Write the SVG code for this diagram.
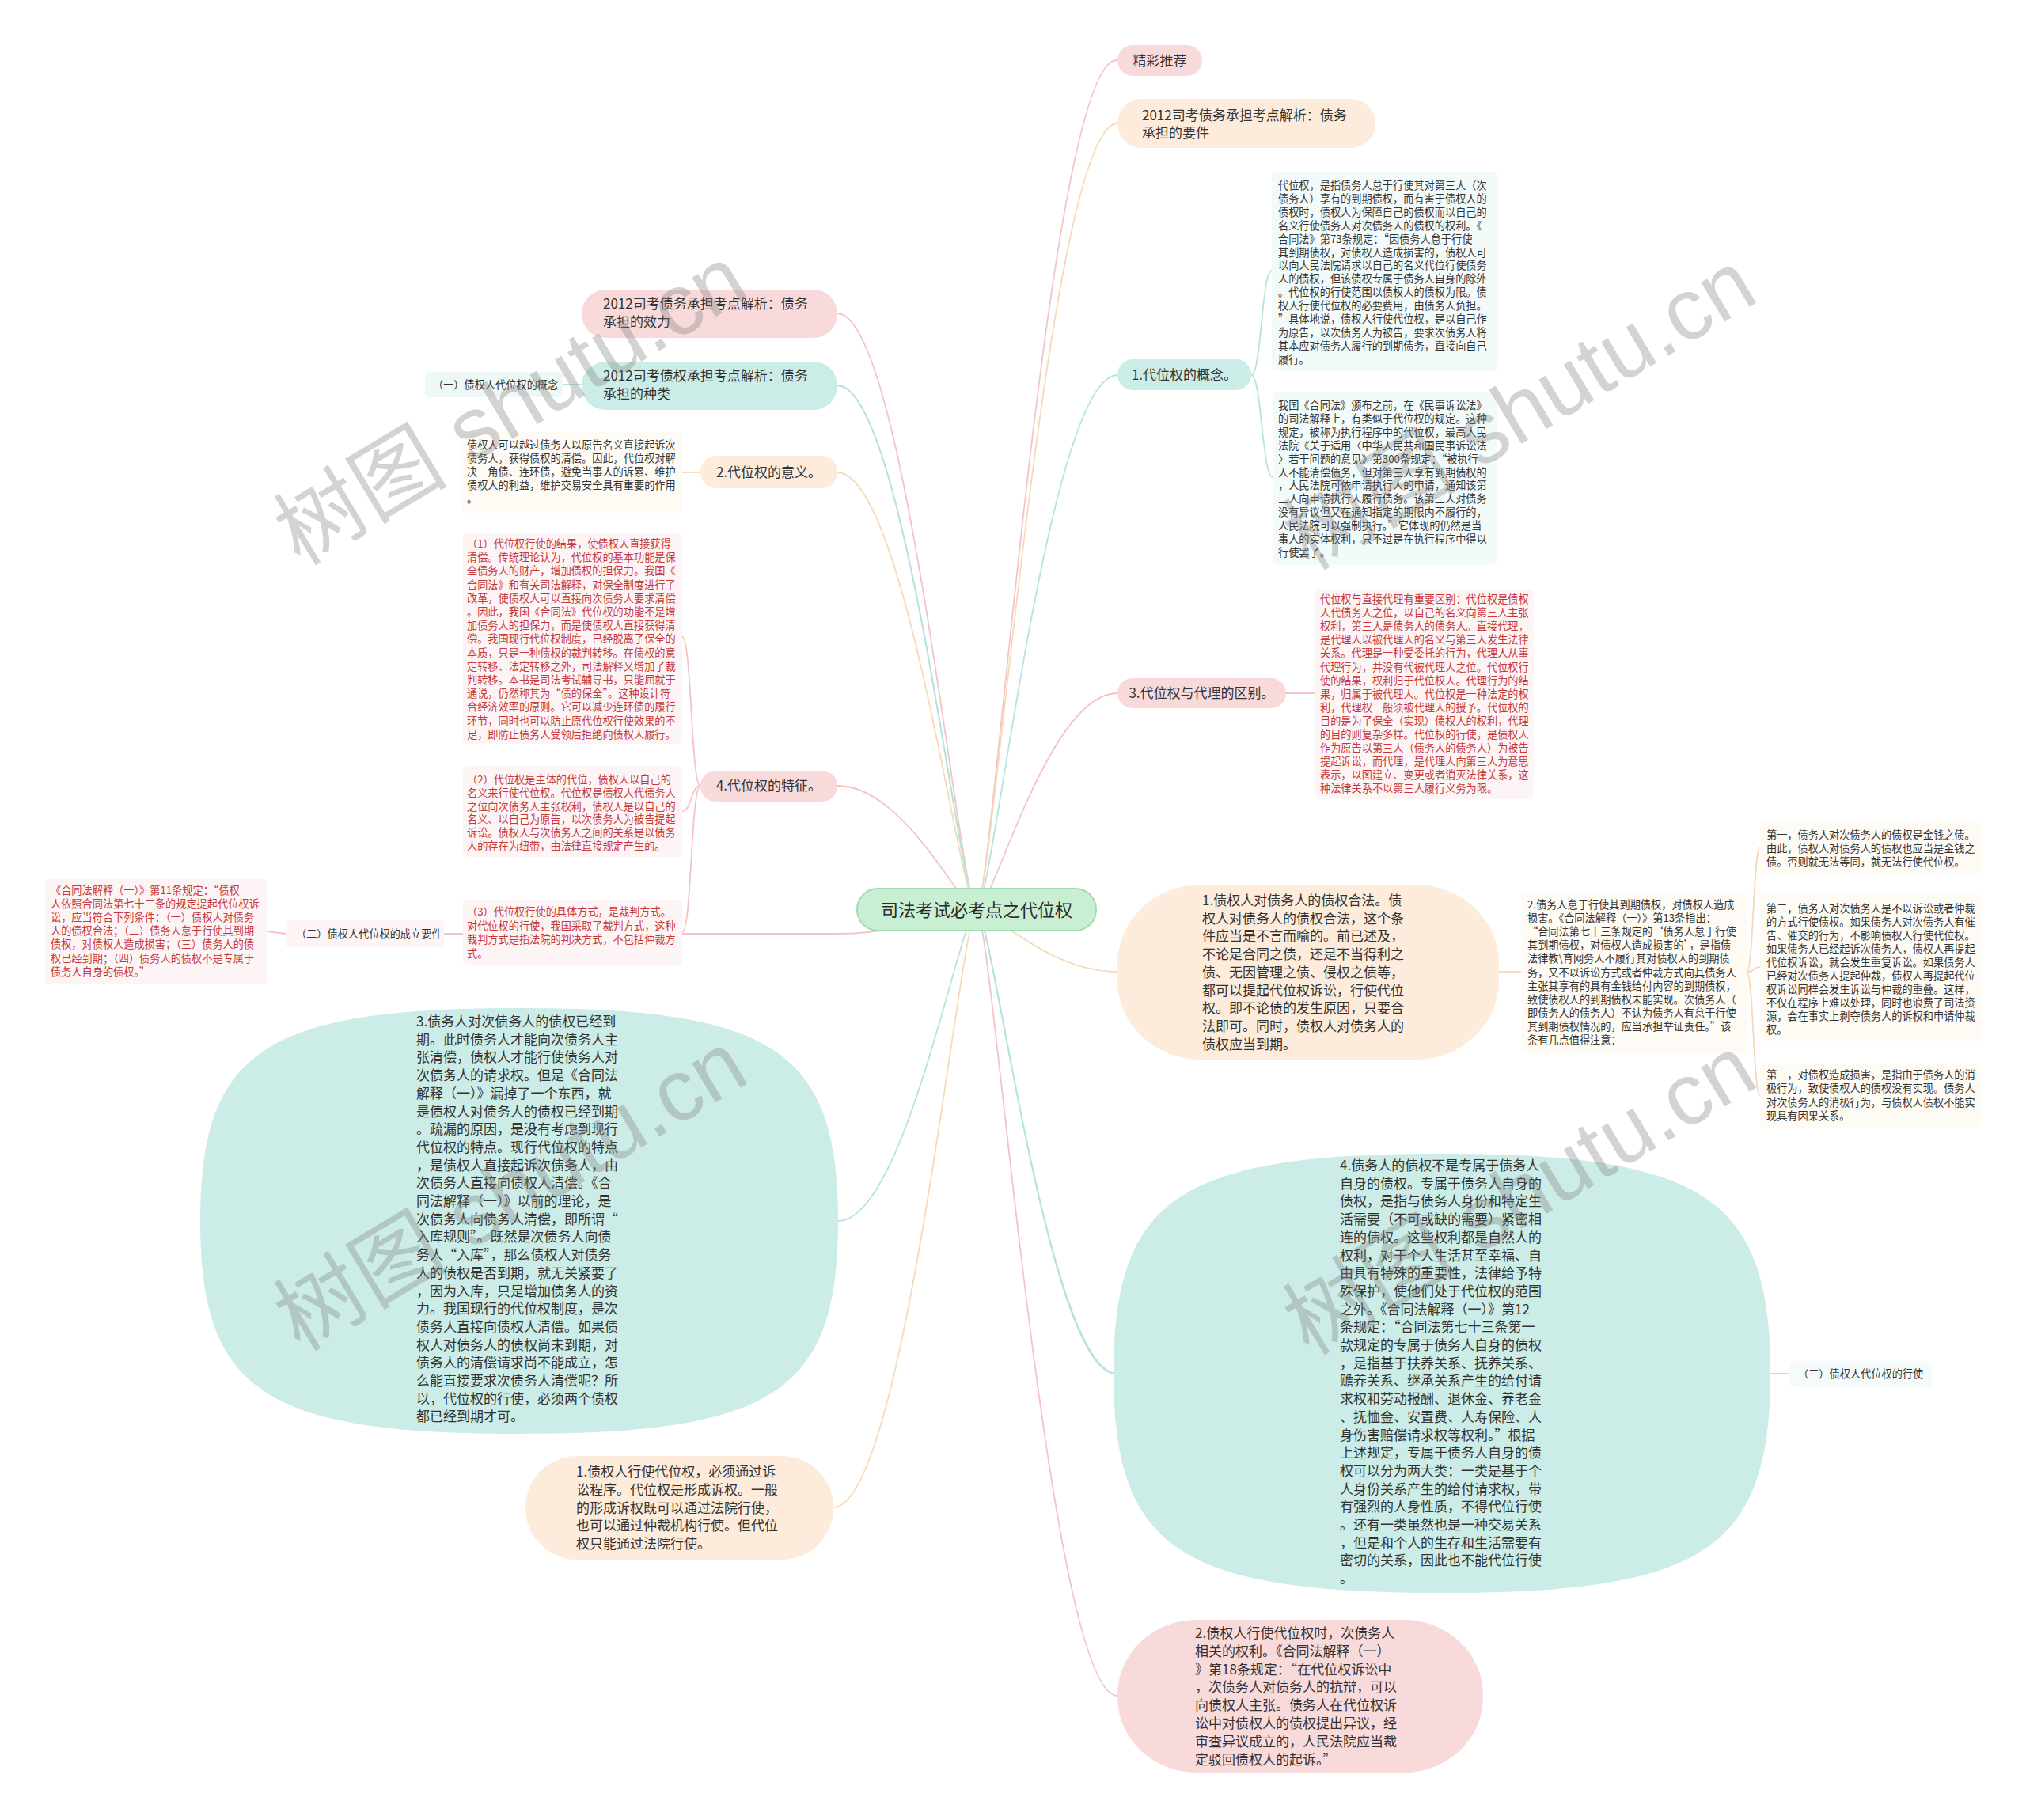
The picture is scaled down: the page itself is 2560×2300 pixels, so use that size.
<svg xmlns="http://www.w3.org/2000/svg" width="2560" height="2300" viewBox="0 0 2560 2300" xml:lang="zh-CN" lang="zh-CN">
<style>
.t{font-family:"Noto Sans CJK SC","Noto Sans",sans-serif;fill:#333}
.s{font-size:13.2px}
.r{fill:#c8383b}
.m{font-size:17px}
.b{font-size:17px}
.c{font-size:22px;fill:#2b2b2b}
.mid{text-anchor:middle}
.e{fill:none;stroke-width:1.8}
.ep{stroke:#f4c4c4}
.eo{stroke:#f7d9b8}
.et{stroke:#b5e4dd}
.fp{fill:#f9dadb}
.fo{fill:#fdecdb}
.ft{fill:#ccede7}
.bt{fill:#f3fbfa}
.bo{fill:#fefaf4}
.bp{fill:#fdf5f5}
.wm{font-family:"Liberation Sans","Noto Sans CJK SC",sans-serif;font-size:110px;fill:#808080;fill-opacity:0.35}
</style>
<rect width="2560" height="2300" fill="#ffffff"/>

<g id="connectors">
<path class="e ep" d="M1234,1150 C1254,1150 1324,76 1411,76"/>
<path class="e eo" d="M1234,1150 C1254,1150 1324,156 1412,156"/>
<path class="e et" d="M1234,1150 C1254,1150 1324,474 1412,474"/>
<path class="e ep" d="M1234,1150 C1254,1150 1324,876 1412,876"/>
<path class="e eo" d="M1234,1150 C1254,1150 1324,1228 1412,1228"/>
<path class="e et" d="M1234,1150 C1254,1150 1324,1736 1410,1736"/>
<path class="e et" d="M1234,1150 C1254,1150 1324,1736 1412,1736 L2261,1736"/>
<path class="e ep" d="M1234,1150 C1254,1150 1324,2143 1412,2143"/>
<path class="e ep" d="M1234,1150 C1214,1150 1144,396 1058,396"/>
<path class="e et" d="M1234,1150 C1214,1150 1144,487 1058,487"/>
<path class="e et" d="M1234,1150 C1214,1150 1144,487 1058,487 L712,486"/>
<path class="e eo" d="M1234,1150 C1214,1150 1144,597 1058,597"/>
<path class="e ep" d="M1234,1150 C1214,1150 1144,993 1058,993"/>
<path class="e ep" d="M1234,1150 C1214,1150 1144,1180 1058,1180 L561,1180"/>
<path class="e et" d="M1234,1150 C1214,1150 1144,1543 1059,1543"/>
<path class="e eo" d="M1234,1150 C1214,1150 1144,1905 1053,1905"/>
<path class="e et" d="M1581,474 C1594,474 1594,342 1607,342"/>
<path class="e et" d="M1581,474 C1594,474 1595,603 1608,603"/>
<path class="e ep" d="M1625,876 L1662,876"/>
<path class="e eo" d="M1894,1228 L1922,1228"/>
<path class="e eo" d="M2207,1229 C2216,1229 2215,1071 2224,1071"/>
<path class="e eo" d="M2207,1229 C2216,1229 2215,1222 2224,1222"/>
<path class="e eo" d="M2207,1229 C2216,1229 2215,1384 2224,1384"/>
<path class="e eo" d="M885,597 L862,597"/>
<path class="e ep" d="M885,993 C873,993 874,805 862,805"/>
<path class="e ep" d="M885,993 C873,993 874,1025 862,1025"/>
<path class="e ep" d="M885,993 C873,993 874,1178 862,1178"/>
<path class="e ep" d="M361,1180 L338,1177"/>
</g>

<g id="center">
<rect x="1083" y="1123" width="302" height="53" rx="26" fill="#c9efd3" stroke="#a3dcb3" stroke-width="2"/>
<text class="t c mid" x="1234" y="1158">司法考试必考点之代位权</text>
</g>

<g id="n-jingcai">
<rect class="fp" x="1412" y="57" width="107" height="39" rx="19.5"/>
<text class="t m mid" x="1465.5" y="82.5">精彩推荐</text>
</g>

<g id="n-yaojian">
<rect class="fo" x="1412" y="125" width="326" height="62" rx="31"/>
<text class="t m" x="1443" y="152"><tspan x="1443">2012司考债务承担考点解析：债务</tspan><tspan x="1443" dy="22">承担的要件</tspan></text>
</g>

<g id="n-gainian">
<rect class="ft" x="1412" y="454" width="169" height="39" rx="19.5"/>
<text class="t m mid" x="1496.5" y="480">1.代位权的概念。</text>
</g>

<g id="n-gainian-t1">
<rect class="bt" x="1607" y="217" width="286" height="252" rx="6"/>
<text class="t s" x="1615" y="239"><tspan x="1615">代位权，是指债务人怠于行使其对第三人（次</tspan><tspan x="1615" dy="16.9">债务人）享有的到期债权，而有害于债权人的</tspan><tspan x="1615" dy="16.9">债权时，债权人为保障自己的债权而以自己的</tspan><tspan x="1615" dy="16.9">名义行使债务人对次债务人的债权的权利。《</tspan><tspan x="1615" dy="16.9">合同法》第73条规定：“因债务人怠于行使</tspan><tspan x="1615" dy="16.9">其到期债权，对债权人造成损害的，债权人可</tspan><tspan x="1615" dy="16.9">以向人民法院请求以自己的名义代位行使债务</tspan><tspan x="1615" dy="16.9">人的债权，但该债权专属于债务人自身的除外</tspan><tspan x="1615" dy="16.9">。代位权的行使范围以债权人的债权为限。债</tspan><tspan x="1615" dy="16.9">权人行使代位权的必要费用，由债务人负担。</tspan><tspan x="1615" dy="16.9">”具体地说，债权人行使代位权，是以自己作</tspan><tspan x="1615" dy="16.9">为原告，以次债务人为被告，要求次债务人将</tspan><tspan x="1615" dy="16.9">其本应对债务人履行的到期债务，直接向自己</tspan><tspan x="1615" dy="16.9">履行。</tspan></text>
</g>

<g id="n-gainian-t2">
<rect class="bt" x="1608" y="495" width="283" height="219" rx="6"/>
<text class="t s" x="1615" y="517"><tspan x="1615">我国《合同法》颁布之前，在《民事诉讼法》</tspan><tspan x="1615" dy="16.9">的司法解释上，有类似于代位权的规定。这种</tspan><tspan x="1615" dy="16.9">规定，被称为执行程序中的代位权，最高人民</tspan><tspan x="1615" dy="16.9">法院《关于适用〈中华人民共和国民事诉讼法</tspan><tspan x="1615" dy="16.9">〉若干问题的意见》第300条规定：“被执行</tspan><tspan x="1615" dy="16.9">人不能清偿债务，但对第三人享有到期债权的</tspan><tspan x="1615" dy="16.9">，人民法院可依申请执行人的申请，通知该第</tspan><tspan x="1615" dy="16.9">三人向申请执行人履行债务。该第三人对债务</tspan><tspan x="1615" dy="16.9">没有异议但又在通知指定的期限内不履行的，</tspan><tspan x="1615" dy="16.9">人民法院可以强制执行。”它体现的仍然是当</tspan><tspan x="1615" dy="16.9">事人的实体权利，只不过是在执行程序中得以</tspan><tspan x="1615" dy="16.9">行使罢了。</tspan></text>
</g>

<g id="n-daili">
<rect class="fp" x="1412" y="857" width="213" height="38" rx="19"/>
<text class="t m mid" x="1518.5" y="882">3.代位权与代理的区别。</text>
</g>

<g id="n-daili-t">
<rect class="bp" x="1662" y="745" width="276" height="265" rx="6"/>
<text class="t s r" x="1668" y="762"><tspan x="1668">代位权与直接代理有重要区别：代位权是债权</tspan><tspan x="1668" dy="17.1">人代债务人之位，以自己的名义向第三人主张</tspan><tspan x="1668" dy="17.1">权利，第三人是债务人的债务人。直接代理，</tspan><tspan x="1668" dy="17.1">是代理人以被代理人的名义与第三人发生法律</tspan><tspan x="1668" dy="17.1">关系。代理是一种受委托的行为，代理人从事</tspan><tspan x="1668" dy="17.1">代理行为，并没有代被代理人之位。代位权行</tspan><tspan x="1668" dy="17.1">使的结果，权利归于代位权人。代理行为的结</tspan><tspan x="1668" dy="17.1">果，归属于被代理人。代位权是一种法定的权</tspan><tspan x="1668" dy="17.1">利，代理权一般须被代理人的授予。代位权的</tspan><tspan x="1668" dy="17.1">目的是为了保全（实现）债权人的权利，代理</tspan><tspan x="1668" dy="17.1">的目的则复杂多样。代位权的行使，是债权人</tspan><tspan x="1668" dy="17.1">作为原告以第三人（债务人的债务人）为被告</tspan><tspan x="1668" dy="17.1">提起诉讼，而代理，是代理人向第三人为意思</tspan><tspan x="1668" dy="17.1">表示，以图建立、变更或者消灭法律关系，这</tspan><tspan x="1668" dy="17.1">种法律关系不以第三人履行义务为限。</tspan></text>
</g>

<g id="n-hefa">
<rect class="fo" x="1412" y="1118" width="482" height="221" rx="105" ry="100"/>
<text class="t b" x="1519" y="1144"><tspan x="1519">1.债权人对债务人的债权合法。债</tspan><tspan x="1519" dy="22.7">权人对债务人的债权合法，这个条</tspan><tspan x="1519" dy="22.7">件应当是不言而喻的。前已述及，</tspan><tspan x="1519" dy="22.7">不论是合同之债，还是不当得利之</tspan><tspan x="1519" dy="22.7">债、无因管理之债、侵权之债等，</tspan><tspan x="1519" dy="22.7">都可以提起代位权诉讼，行使代位</tspan><tspan x="1519" dy="22.7">权。即不论债的发生原因，只要合</tspan><tspan x="1519" dy="22.7">法即可。同时，债权人对债务人的</tspan><tspan x="1519" dy="22.7">债权应当到期。</tspan></text>
</g>

<g id="n-daiyu">
<rect class="bo" x="1922" y="1128" width="285" height="203" rx="6"/>
<text class="t s" x="1930" y="1148"><tspan x="1930">2.债务人怠于行使其到期债权，对债权人造成</tspan><tspan x="1930" dy="17.1">损害。《合同法解释（一）》第13条指出：</tspan><tspan x="1930" dy="17.1">“合同法第七十三条规定的‘债务人怠于行使</tspan><tspan x="1930" dy="17.1">其到期债权，对债权人造成损害的’，是指债</tspan><tspan x="1930" dy="17.1">法律教\育网务人不履行其对债权人的到期债</tspan><tspan x="1930" dy="17.1">务，又不以诉讼方式或者仲裁方式向其债务人</tspan><tspan x="1930" dy="17.1">主张其享有的具有金钱给付内容的到期债权，</tspan><tspan x="1930" dy="17.1">致使债权人的到期债权未能实现。次债务人（</tspan><tspan x="1930" dy="17.1">即债务人的债务人）不认为债务人有怠于行使</tspan><tspan x="1930" dy="17.1">其到期债权情况的，应当承担举证责任。”该</tspan><tspan x="1930" dy="17.1">条有几点值得注意：</tspan></text>
</g>

<g id="n-di1">
<rect class="bo" x="2224" y="1038" width="279" height="67" rx="6"/>
<text class="t s" x="2232" y="1060"><tspan x="2232">第一，债务人对次债务人的债权是金钱之债。</tspan><tspan x="2232" dy="17">由此，债权人对债务人的债权也应当是金钱之</tspan><tspan x="2232" dy="17">债。否则就无法等同，就无法行使代位权。</tspan></text>
</g>

<g id="n-di2">
<rect class="bo" x="2224" y="1130" width="279" height="186" rx="6"/>
<text class="t s" x="2232" y="1153"><tspan x="2232">第二，债务人对次债务人是不以诉讼或者仲裁</tspan><tspan x="2232" dy="17">的方式行使债权。如果债务人对次债务人有催</tspan><tspan x="2232" dy="17">告、催交的行为，不影响债权人行使代位权。</tspan><tspan x="2232" dy="17">如果债务人已经起诉次债务人，债权人再提起</tspan><tspan x="2232" dy="17">代位权诉讼，就会发生重复诉讼。如果债务人</tspan><tspan x="2232" dy="17">已经对次债务人提起仲裁，债权人再提起代位</tspan><tspan x="2232" dy="17">权诉讼同样会发生诉讼与仲裁的重叠。这样，</tspan><tspan x="2232" dy="17">不仅在程序上难以处理，同时也浪费了司法资</tspan><tspan x="2232" dy="17">源，会在事实上剥夺债务人的诉权和申请仲裁</tspan><tspan x="2232" dy="17">权。</tspan></text>
</g>

<g id="n-di3">
<rect class="bo" x="2224" y="1344" width="279" height="82" rx="6"/>
<text class="t s" x="2232" y="1363"><tspan x="2232">第三，对债权造成损害，是指由于债务人的消</tspan><tspan x="2232" dy="17.3">极行为，致使债权人的债权没有实现。债务人</tspan><tspan x="2232" dy="17.3">对次债务人的消极行为，与债权人债权不能实</tspan><tspan x="2232" dy="17.3">现具有因果关系。</tspan></text>
</g>

<g id="n-zhuanshu">
<path class="ft" d="M2237,1735.5 C2237,1513.5 2154,1457.9 1822,1457.9 C1490,1457.9 1407,1513.5 1407,1735.5 C1407,1957.5 1490,2013.1 1822,2013.1 C2154,2013.1 2237,1957.5 2237,1735.5 Z"/>
<text class="t b" x="1693" y="1479"><tspan x="1693">4.债务人的债权不是专属于债务人</tspan><tspan x="1693" dy="22.7">自身的债权。专属于债务人自身的</tspan><tspan x="1693" dy="22.7">债权，是指与债务人身份和特定生</tspan><tspan x="1693" dy="22.7">活需要（不可或缺的需要）紧密相</tspan><tspan x="1693" dy="22.7">连的债权。这些权利都是自然人的</tspan><tspan x="1693" dy="22.7">权利，对于个人生活甚至幸福、自</tspan><tspan x="1693" dy="22.7">由具有特殊的重要性，法律给予特</tspan><tspan x="1693" dy="22.7">殊保护，使他们处于代位权的范围</tspan><tspan x="1693" dy="22.7">之外。《合同法解释（一）》第12</tspan><tspan x="1693" dy="22.7">条规定：“合同法第七十三条第一</tspan><tspan x="1693" dy="22.7">款规定的专属于债务人自身的债权</tspan><tspan x="1693" dy="22.7">，是指基于扶养关系、抚养关系、</tspan><tspan x="1693" dy="22.7">赡养关系、继承关系产生的给付请</tspan><tspan x="1693" dy="22.7">求权和劳动报酬、退休金、养老金</tspan><tspan x="1693" dy="22.7">、抚恤金、安置费、人寿保险、人</tspan><tspan x="1693" dy="22.7">身伤害赔偿请求权等权利。”根据</tspan><tspan x="1693" dy="22.7">上述规定，专属于债务人自身的债</tspan><tspan x="1693" dy="22.7">权可以分为两大类：一类是基于个</tspan><tspan x="1693" dy="22.7">人身份关系产生的给付请求权，带</tspan><tspan x="1693" dy="22.7">有强烈的人身性质，不得代位行使</tspan><tspan x="1693" dy="22.7">。还有一类虽然也是一种交易关系</tspan><tspan x="1693" dy="22.7">，但是和个人的生存和生活需要有</tspan><tspan x="1693" dy="22.7">密切的关系，因此也不能代位行使</tspan><tspan x="1693" dy="22.7">。</tspan></text>
</g>

<g id="n-xingshi">
<rect x="2261" y="1720" width="180" height="33" rx="5" fill="#f4fbfa"/>
<text class="t s" x="2272" y="1741">（三）债权人代位权的行使</text>
</g>

<g id="n-kangbian">
<rect class="fp" x="1412" y="2047" width="462" height="193" rx="100" ry="95"/>
<text class="t b" x="1510" y="2070"><tspan x="1510">2.债权人行使代位权时，次债务人</tspan><tspan x="1510" dy="22.8">相关的权利。《合同法解释（一）</tspan><tspan x="1510" dy="22.8">》第18条规定：“在代位权诉讼中</tspan><tspan x="1510" dy="22.8">，次债务人对债务人的抗辩，可以</tspan><tspan x="1510" dy="22.8">向债权人主张。债务人在代位权诉</tspan><tspan x="1510" dy="22.8">讼中对债权人的债权提出异议，经</tspan><tspan x="1510" dy="22.8">审查异议成立的，人民法院应当裁</tspan><tspan x="1510" dy="22.8">定驳回债权人的起诉。”</tspan></text>
</g>

<g id="n-xiaoli">
<rect class="fp" x="735" y="366" width="323" height="61" rx="30"/>
<text class="t m" x="762" y="390"><tspan x="762">2012司考债务承担考点解析：债务</tspan><tspan x="762" dy="23">承担的效力</tspan></text>
</g>

<g id="n-zhonglei">
<rect class="ft" x="735" y="457" width="323" height="61" rx="30"/>
<text class="t m" x="762" y="481"><tspan x="762">2012司考债权承担考点解析：债务</tspan><tspan x="762" dy="23">承担的种类</tspan></text>
</g>

<g id="n-gainian2">
<rect x="537" y="470" width="175" height="32" rx="5" fill="#eef8f7"/>
<text class="t s" x="547" y="491">（一）债权人代位权的概念</text>
</g>

<g id="n-yiyi">
<rect class="fo" x="885" y="576" width="173" height="41" rx="20"/>
<text class="t m mid" x="971.5" y="603">2.代位权的意义。</text>
</g>

<g id="n-yiyi-t">
<rect class="bo" x="582" y="546" width="280" height="102" rx="6"/>
<text class="t s" x="590" y="567"><tspan x="590">债权人可以越过债务人以原告名义直接起诉次</tspan><tspan x="590" dy="17">债务人，获得债权的清偿。因此，代位权对解</tspan><tspan x="590" dy="17">决三角债、连环债，避免当事人的诉累、维护</tspan><tspan x="590" dy="17">债权人的利益，维护交易安全具有重要的作用</tspan><tspan x="590" dy="17">。</tspan></text>
</g>

<g id="n-tezheng">
<rect class="fp" x="885" y="974" width="173" height="39" rx="19"/>
<text class="t m mid" x="971.5" y="999">4.代位权的特征。</text>
</g>

<g id="n-tezheng-1">
<rect class="bp" x="585" y="673" width="277" height="267" rx="6"/>
<text class="t s r" x="590" y="692"><tspan x="590">（1）代位权行使的结果，使债权人直接获得</tspan><tspan x="590" dy="17.2">清偿。传统理论认为，代位权的基本功能是保</tspan><tspan x="590" dy="17.2">全债务人的财产，增加债权的担保力。我国《</tspan><tspan x="590" dy="17.2">合同法》和有关司法解释，对保全制度进行了</tspan><tspan x="590" dy="17.2">改革，使债权人可以直接向次债务人要求清偿</tspan><tspan x="590" dy="17.2">。因此，我国《合同法》代位权的功能不是增</tspan><tspan x="590" dy="17.2">加债务人的担保力，而是使债权人直接获得清</tspan><tspan x="590" dy="17.2">偿。我国现行代位权制度，已经脱离了保全的</tspan><tspan x="590" dy="17.2">本质，只是一种债权的裁判转移。在债权的意</tspan><tspan x="590" dy="17.2">定转移、法定转移之外，司法解释又增加了裁</tspan><tspan x="590" dy="17.2">判转移。本书是司法考试辅导书，只能屈就于</tspan><tspan x="590" dy="17.2">通说，仍然称其为“债的保全”。这种设计符</tspan><tspan x="590" dy="17.2">合经济效率的原则。它可以减少连环债的履行</tspan><tspan x="590" dy="17.2">环节，同时也可以防止原代位权行使效果的不</tspan><tspan x="590" dy="17.2">足，即防止债务人受领后拒绝向债权人履行。</tspan></text>
</g>

<g id="n-tezheng-2">
<rect class="bp" x="585" y="968" width="277" height="115" rx="6"/>
<text class="t s r" x="590" y="990"><tspan x="590">（2）代位权是主体的代位，债权人以自己的</tspan><tspan x="590" dy="16.8">名义来行使代位权。代位权是债权人代债务人</tspan><tspan x="590" dy="16.8">之位向次债务人主张权利，债权人是以自己的</tspan><tspan x="590" dy="16.8">名义、以自己为原告，以次债务人为被告提起</tspan><tspan x="590" dy="16.8">诉讼。债权人与次债务人之间的关系是以债务</tspan><tspan x="590" dy="16.8">人的存在为纽带，由法律直接规定产生的。</tspan></text>
</g>

<g id="n-tezheng-3">
<rect class="bp" x="585" y="1137" width="277" height="82" rx="6"/>
<text class="t s r" x="590" y="1157"><tspan x="590">（3）代位权行使的具体方式，是裁判方式。</tspan><tspan x="590" dy="17.5">对代位权的行使，我国采取了裁判方式，这种</tspan><tspan x="590" dy="17.5">裁判方式是指法院的判决方式，不包括仲裁方</tspan><tspan x="590" dy="17.5">式。</tspan></text>
</g>

<g id="n-yaojian2">
<rect class="bp" x="361" y="1163" width="200" height="34" rx="5"/>
<text class="t s" x="374" y="1185">（二）债权人代位权的成立要件</text>
</g>

<g id="n-yaojian2-t">
<rect class="bp" x="57" y="1111" width="281" height="133" rx="6"/>
<text class="t s r" x="64" y="1130"><tspan x="64">《合同法解释（一）》第11条规定：“债权</tspan><tspan x="64" dy="17.1">人依照合同法第七十三条的规定提起代位权诉</tspan><tspan x="64" dy="17.1">讼，应当符合下列条件：（一）债权人对债务</tspan><tspan x="64" dy="17.1">人的债权合法；（二）债务人怠于行使其到期</tspan><tspan x="64" dy="17.1">债权，对债权人造成损害；（三）债务人的债</tspan><tspan x="64" dy="17.1">权已经到期；（四）债务人的债权不是专属于</tspan><tspan x="64" dy="17.1">债务人自身的债权。”</tspan></text>
</g>

<g id="n-daoqi">
<path class="ft" d="M1059,1543 C1059,1327.8 978.4,1274 656,1274 C333.6,1274 253,1327.8 253,1543 C253,1758.2 333.6,1812 656,1812 C978.4,1812 1059,1758.2 1059,1543 Z"/>
<text class="t b" x="526" y="1297"><tspan x="526">3.债务人对次债务人的债权已经到</tspan><tspan x="526" dy="22.7">期。此时债务人才能向次债务人主</tspan><tspan x="526" dy="22.7">张清偿，债权人才能行使债务人对</tspan><tspan x="526" dy="22.7">次债务人的请求权。但是《合同法</tspan><tspan x="526" dy="22.7">解释（一）》漏掉了一个东西，就</tspan><tspan x="526" dy="22.7">是债权人对债务人的债权已经到期</tspan><tspan x="526" dy="22.7">。疏漏的原因，是没有考虑到现行</tspan><tspan x="526" dy="22.7">代位权的特点。现行代位权的特点</tspan><tspan x="526" dy="22.7">，是债权人直接起诉次债务人，由</tspan><tspan x="526" dy="22.7">次债务人直接向债权人清偿。《合</tspan><tspan x="526" dy="22.7">同法解释（一）》以前的理论，是</tspan><tspan x="526" dy="22.7">次债务人向债务人清偿，即所谓“</tspan><tspan x="526" dy="22.7">入库规则”。既然是次债务人向债</tspan><tspan x="526" dy="22.7">务人“入库”，那么债权人对债务</tspan><tspan x="526" dy="22.7">人的债权是否到期，就无关紧要了</tspan><tspan x="526" dy="22.7">，因为入库，只是增加债务人的资</tspan><tspan x="526" dy="22.7">力。我国现行的代位权制度，是次</tspan><tspan x="526" dy="22.7">债务人直接向债权人清偿。如果债</tspan><tspan x="526" dy="22.7">权人对债务人的债权尚未到期，对</tspan><tspan x="526" dy="22.7">债务人的清偿请求尚不能成立，怎</tspan><tspan x="526" dy="22.7">么能直接要求次债务人清偿呢？所</tspan><tspan x="526" dy="22.7">以，代位权的行使，必须两个债权</tspan><tspan x="526" dy="22.7">都已经到期才可。</tspan></text>
</g>

<g id="n-susong">
<rect class="fo" x="664" y="1840" width="389" height="131" rx="65"/>
<text class="t b" x="728" y="1866"><tspan x="728">1.债权人行使代位权，必须通过诉</tspan><tspan x="728" dy="22.8">讼程序。代位权是形成诉权。一般</tspan><tspan x="728" dy="22.8">的形成诉权既可以通过法院行使，</tspan><tspan x="728" dy="22.8">也可以通过仲裁机构行使。但代位</tspan><tspan x="728" dy="22.8">权只能通过法院行使。</tspan></text>
</g>

<g id="watermarks">
<text class="wm" text-anchor="middle" x="645" y="550" transform="rotate(-31 645 512)">树图 shutu.cn</text>
<text class="wm" text-anchor="middle" x="1920" y="556" transform="rotate(-31 1920 518)">树图 shutu.cn</text>
<text class="wm" text-anchor="middle" x="645" y="1543" transform="rotate(-31 645 1505)">树图 shutu.cn</text>
<text class="wm" text-anchor="middle" x="1920" y="1548" transform="rotate(-31 1920 1510)">树图 shutu.cn</text>
</g>
</svg>
